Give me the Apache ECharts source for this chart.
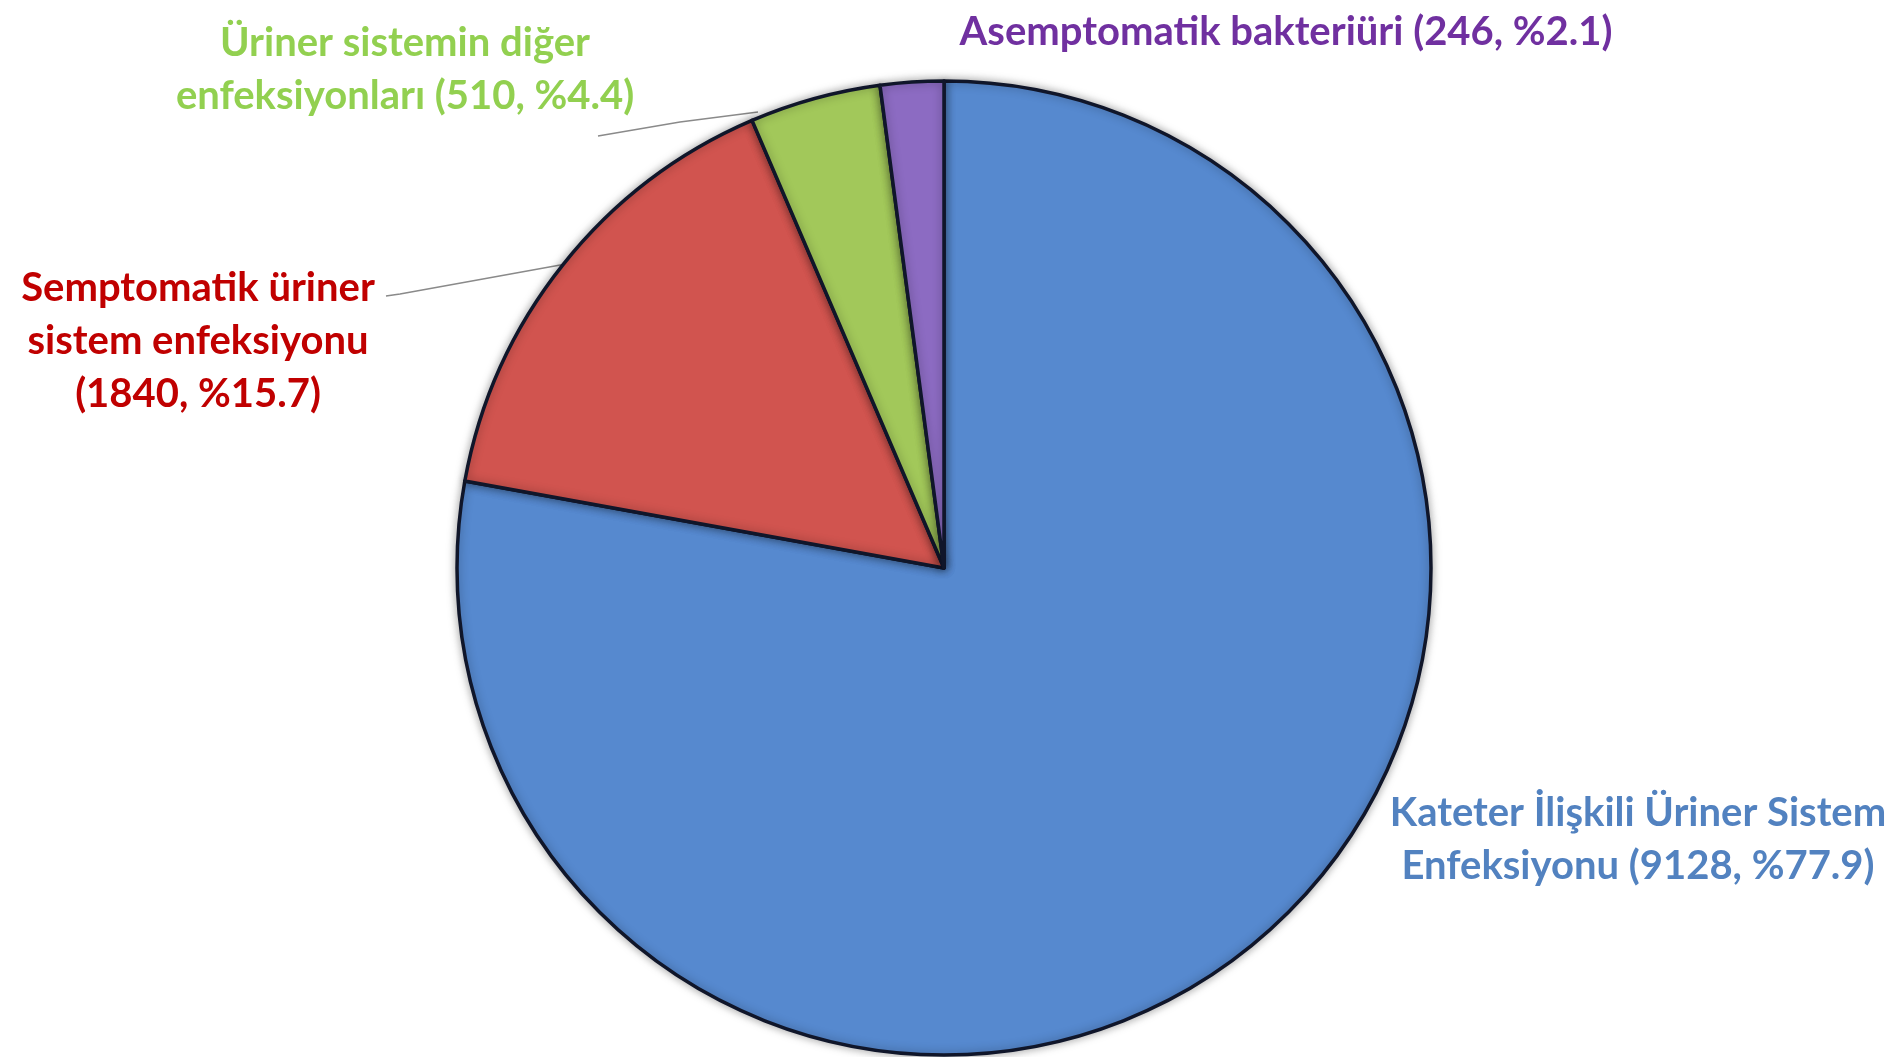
<!DOCTYPE html>
<html>
<head>
<meta charset="utf-8">
<title>Üriner sistem enfeksiyonları</title>
<script src="https://cdn.jsdelivr.net/npm/echarts@6/dist/echarts.min.js"></script>
<style>
  html, body { margin: 0; padding: 0; background: #fff; }
  #grafik { width: 1903px; height: 1057px; }
</style>
</head>
<body>
<div id="grafik"></div>
<script>
// Veriler (saat 12'den başlayarak saat yönünde)
var kategoriler = [
    'Kateter İlişkili Üriner Sistem\nEnfeksiyonu',
    'Semptomatik üriner\nsistem enfeksiyonu',
    'Üriner sistemin diğer\nenfeksiyonları',
    'Asemptomatik bakteriüri'
];
var degerler = [9128, 1840, 510, 246];

// Görünüm: dilim renkleri, etiket renkleri, etiket yerleri
var dilimRenk = ['#5689cf', '#d1544f', '#a2c85a', '#8c6bc2'];
var yaziRenk = ['#5282c0', '#c00000', '#92d050', '#7030a0'];
var ayrac = [' ', '\n', ' ', ' '];
var etiketX = [1638, 198, 405, 1286];
var etiketY = [840, 341, 70, 32];
// kılavuz çizgilerinin etiket tarafındaki uçları (null: çizgi yok)
var cizgiUc = [null, [[400, 294], [386, 296]], [[680, 122], [598, 136]], null];

var toplam = degerler.reduce((a, b) => a + b, 0);

const getOption = () => {
    var datos = [];
    for (var i = 0; i < kategoriler.length; i++) {
        datos.push({
            value: degerler[i],
            name: kategoriler[i],
            itemStyle: { color: dilimRenk[i] },
            label: { color: yaziRenk[i] },
            labelLine: { show: cizgiUc[i] != null }
        });
    }

    return {
        animation: false,
        series: [
            {
                type: 'pie',
                center: [944, 568],
                radius: 487,
                startAngle: 90,
                clockwise: true,
                avoidLabelOverlap: false,
                emphasis: { disabled: true },
                itemStyle: {
                    borderColor: '#10162a',
                    borderWidth: 3.5,
                    shadowBlur: 10,
                    shadowColor: 'rgba(0,0,0,0.35)'
                },
                label: {
                    show: true,
                    position: 'outside',
                    fontFamily: 'Lato',
                    fontWeight: 'bold',
                    fontSize: 40,
                    lineHeight: 53,
                    align: 'center',
                    formatter: (p) => p.name + ayrac[p.dataIndex] + '(' + p.value + ', %' + (p.value / toplam * 100).toFixed(1) + ')'
                },
                labelLine: {
                    show: true,
                    length: 10,
                    length2: 10,
                    lineStyle: { color: '#8a8a8a', width: 1.5 }
                },
                labelLayout: (params) => {
                    var i = params.dataIndex;
                    var sonuc = {
                        x: etiketX[i],
                        y: etiketY[i],
                        align: 'center',
                        verticalAlign: 'middle'
                    };
                    if (cizgiUc[i] && params.labelLinePoints) {
                        // dilimdeki başlangıç noktası kütüphaneden gelir
                        var p0 = params.labelLinePoints[0];
                        if (i === 2) {
                            // yeşil dilimin çizgisi sol kenarına yakın bağlanır
                            p0 = [758, 112];
                        }
                        sonuc.labelLinePoints = [p0, cizgiUc[i][0], cizgiUc[i][1]];
                    }
                    return sonuc;
                },
                data: datos
            }
        ]
    };
};

var grafik = echarts.init(document.getElementById('grafik'));
grafik.setOption(getOption());
</script>
</body>
</html>
